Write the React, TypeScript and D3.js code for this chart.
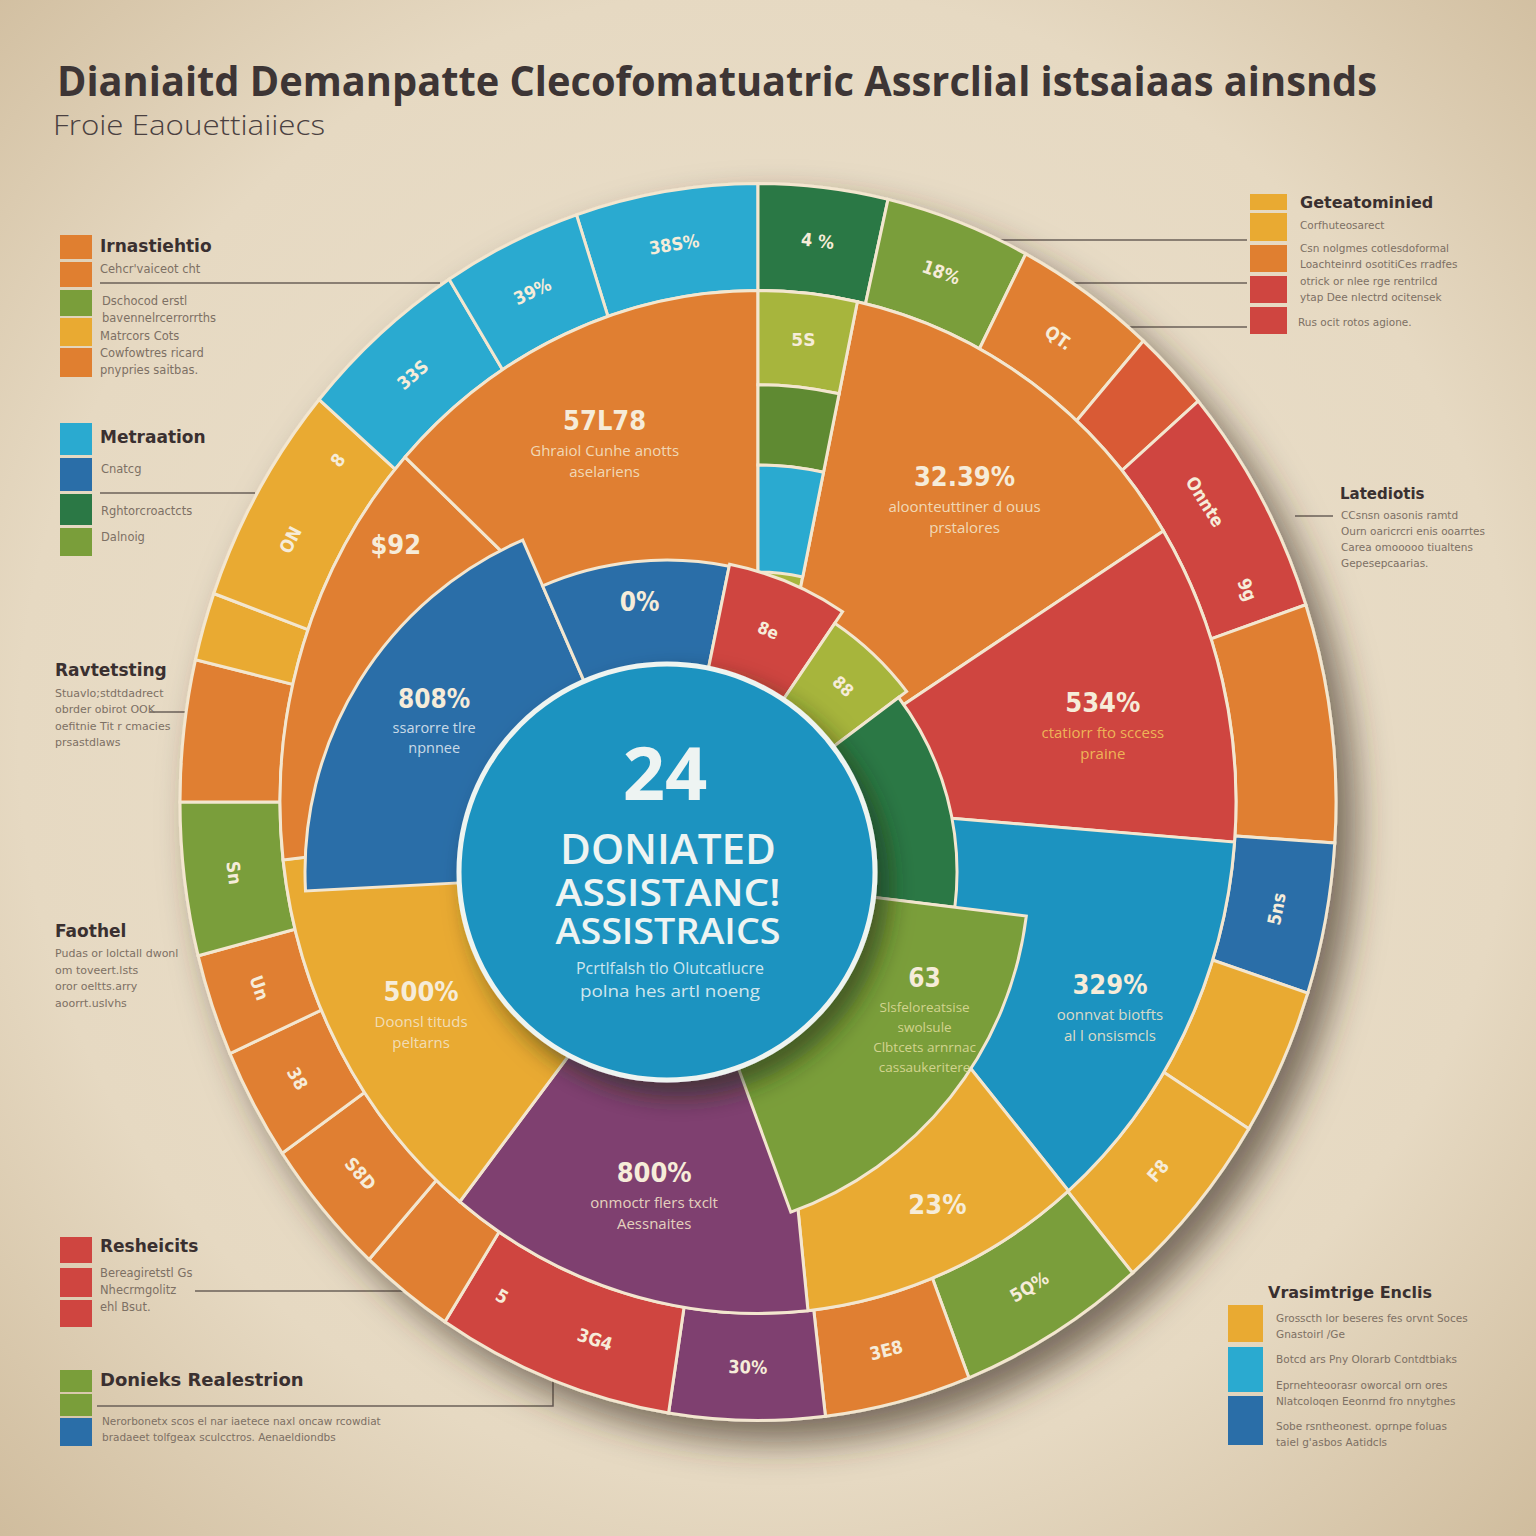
import React from "react";
import * as d3 from "d3";

const COL = {
  orange: "#e07f30", yellow: "#e9aa32", red: "#cf4540", lblue: "#2aaad0", cblue: "#1e93c0",
  dblue: "#2a6ea8", green: "#7a9e3a", lime: "#a7b53c", dgreen: "#2b7845", purple: "#7f416f",
  redor: "#d95a35", olive: "#5f8a30",
};

// Outer ring (angular shares, degrees)
const OUTER_START = -18.3;
const outerShares = [18.3, 13, 14.6, 14.2, 7.8, 21.8, 22.4, 14.2, 13.9, 17.7, 19, 14.7, 15.6, 23.9, 9.5, 13.1, 10.6, 9.6, 14.4, 13.3, 6.4, 20.9, 17.1, 14];
const outerLabels = ["38S%", "4 %", "18%", "QT.", "", "Onnte", "", "5ns", "", "F8", "5Q%", "3E8", "30%", "3G4", "", "S8D", "38", "Un", "Sn", "", "", "ON", "33S", "39%"];
const outerExtra = ["", "", "", "", "", "9g", "", "", "", "", "", "", "", "5", "", "", "", "", "", "", "", "8", "", ""];
const outerColors = ["lblue", "dgreen", "green", "orange", "redor", "red", "orange", "dblue", "yellow", "yellow", "green", "orange", "purple", "red", "orange", "orange", "orange", "orange", "green", "orange", "yellow", "yellow", "lblue", "lblue"];

// Middle ring
const midShares = [12, 46, 36.5, 45, 34.5, 44.6, 44.9, 48.9, 47.6];
const midValues = ["", "32.39%", "534%", "329%", "23%", "800%", "500%", "$92", "57L78"];
const midSubs = [[], ["aloonteuttiner d ouus", "prstalores"], ["ctatiorr fto sccess", "praine"], ["oonnvat biotfts", "al l onsismcls"], [], ["onmoctr flers txclt", "Aessnaites"], ["Doonsl tituds", "peltarns"], [], ["Ghraiol Cunhe anotts", "aselariens"]];
const midColors = ["lime", "orange", "red", "cblue", "yellow", "purple", "yellow", "orange", "orange"];

// narrow column stacked cells in the first middle segment (radial bands)
const columnBands = [[390, 478], [315, 390], [215, 315]];
const columnColors = ["lime", "olive", "lblue"];
const columnLabels = ["5S", "", ""];

// Inner ring around the centre circle
const INNER_START = 267;
const innerShares = [69.5, 35, 22.5, 19, 44, 63, 107];
const innerDepth = [362, 312, 314, 300, 290, 362, 0];
const innerValues = ["808%", "0%", "8e", "88", "", "63", ""];
const innerSubs = [["ssarorre tlre", "npnnee"], [], [], [], [], ["Slsfeloreatsise", "swolsule", "Clbtcets arnrnac", "cassaukeritere"], []];
const innerColors = ["dblue", "dblue", "red", "lime", "dgreen", "green", ""];

const centerValue = "24";
const centerLines = ["DONIATED", "ASSISTANC!", "ASSISTRAICS"];
const centerSubs = ["Pcrtlfalsh tlo Olutcatlucre", "polna hes artl noeng"];

const rad = (d: number) => (d * Math.PI) / 180;
const deg = (r: number) => (r * 180) / Math.PI;
const C1 = [758, 802];
const KY = 1.07;
const C2 = [667, 872];
const R_IN = 208;
const R_OUT0 = 478;
const R_OUT1 = 578;

const TXT = "#f6ecd9";
const INK = "#3a3030";
const GRAY = "#7d7064";

function pt1(aDeg: number, r: number) {
  return [C1[0] + r * Math.sin(rad(aDeg)), C1[1] - r * Math.cos(rad(aDeg)) * KY];
}
function pt2(aDeg: number, r: number) {
  return [C2[0] + r * Math.sin(rad(aDeg)), C2[1] - r * Math.cos(rad(aDeg))];
}
function readRot(a: number) {
  const n = ((a % 360) + 360) % 360;
  return n > 90 && n < 270 ? n - 180 : n;
}
function along(p: any, f: number) {
  return deg(p.startAngle + (p.endAngle - p.startAngle) * f);
}

export default function App() {
  const outerPie = d3.pie<number>().sort(null).value((d) => d).startAngle(rad(OUTER_START)).endAngle(rad(OUTER_START + 360))(outerShares);
  const midPie = d3.pie<number>().sort(null).value((d) => d).startAngle(0).endAngle(2 * Math.PI)(midShares);
  const innerPie = d3.pie<number>().sort(null).value((d) => d).startAngle(rad(INNER_START)).endAngle(rad(INNER_START + 360))(innerShares);
  const arc = d3.arc<any>();
  const stroke = "#f3e6cf";

  // label placement (fraction along the slice, radius)
  const midPlace: Record<number, [number, number]> = { 1: [0.5, 360], 2: [0.5, 355], 3: [0.5, 395], 4: [0.45, 425], 5: [0.5, 370], 6: [0.5, 385], 7: [0.8, 430], 8: [0.5, 380] };
  const innerPlace: Record<number, [number, number]> = { 0: [0.55, 285], 1: [0.5, 262], 2: [0.5, 262], 3: [0.5, 256], 5: [0.27, 282] };

  const outerLabel = (txt: string, a: number, key: string) => {
    const [x, y] = pt1(a, (R_OUT0 + R_OUT1) / 2);
    return (
      <text key={key} x={x} y={y} transform={`rotate(${readRot(a)},${x},${y})`} textAnchor="middle" dominantBaseline="central" fontSize={18} fontWeight={700} fill={TXT} fontFamily="DejaVu Sans Condensed, DejaVu Sans, sans-serif">{txt}</text>
    );
  };

  return (
    <svg width={1536} height={1536} style={{ position: "absolute", left: 0, top: 0, display: "block" }} fontFamily="DejaVu Sans, sans-serif">
      <defs>
        <radialGradient id="bg" cx="50%" cy="48%" r="75%">
          <stop offset="0%" stopColor="#ece2cf" />
          <stop offset="65%" stopColor="#e6d9c2" />
          <stop offset="100%" stopColor="#cdb999" />
        </radialGradient>
        <filter id="ringShadow" x="-20%" y="-20%" width="150%" height="150%">
          <feDropShadow dx="18" dy="20" stdDeviation="18" floodColor="#3e3020" floodOpacity="0.65" />
        </filter>
        <filter id="circShadow" x="-30%" y="-30%" width="160%" height="160%">
          <feDropShadow dx="12" dy="14" stdDeviation="12" floodColor="#1c2a10" floodOpacity="0.6" />
        </filter>
      </defs>
      <rect x={0} y={0} width={1536} height={1536} fill="url(#bg)" />

      {/* Title */}
      <text x={57} y={96} fontSize={42} fontWeight={700} fill="#3d3535" fontFamily="Open Sans, sans-serif" textLength={1320} lengthAdjust="spacingAndGlyphs">Dianiaitd Demanpatte Clecofomatuatric Assrclial  istsaiaas ainsnds</text>
      <text x={53} y={135} fontSize={28} fontWeight={300} fill="#4a4040" fontFamily="Open Sans, sans-serif" textLength={272} lengthAdjust="spacingAndGlyphs">Froie Eaouettiaiiecs</text>

      {/* connector lines */}
      <g stroke="#6b6058" strokeWidth={1.5}>
        <line x1={100} y1={283} x2={440} y2={283} />
        <line x1={100} y1={493} x2={255} y2={493} />
        <line x1={150} y1={712} x2={188} y2={712} />
        <line x1={195} y1={1291} x2={410} y2={1291} />
        <path d="M97 1406 H553 V1380" fill="none" />
        <line x1={1000} y1={240} x2={1247} y2={240} />
        <line x1={1035} y1={283} x2={1247} y2={283} />
        <line x1={1080} y1={327} x2={1247} y2={327} />
        <line x1={1295} y1={516} x2={1333} y2={516} />
      </g>

      {/* Rings */}
      <g filter="url(#ringShadow)">
        <g transform={`translate(${C1[0]},${C1[1]}) scale(1,${KY})`}>
          {outerPie.map((p, i) => (
            <path key={"o" + i} d={arc({ ...p, innerRadius: R_OUT0, outerRadius: R_OUT1 }) as string} fill={(COL as any)[outerColors[i]]} stroke={stroke} strokeWidth={3} vectorEffect="non-scaling-stroke" />
          ))}
          {midPie.map((p, i) => (
            <path key={"m" + i} d={arc({ ...p, innerRadius: 0, outerRadius: R_OUT0 }) as string} fill={(COL as any)[midColors[i]]} stroke={stroke} strokeWidth={3} vectorEffect="non-scaling-stroke" />
          ))}
          {columnBands.map((b, i) => (
            <path key={"c" + i} d={arc({ startAngle: midPie[0].startAngle, endAngle: midPie[0].endAngle, innerRadius: b[0], outerRadius: b[1] }) as string} fill={(COL as any)[columnColors[i]]} stroke={stroke} strokeWidth={3} vectorEffect="non-scaling-stroke" />
          ))}
        </g>
      </g>

      <g transform={`translate(${C2[0]},${C2[1]})`}>
        {innerPie.map((p, i) =>
          innerDepth[i] > 0 ? (
            <path key={"i" + i} d={arc({ ...p, innerRadius: R_IN - 4, outerRadius: innerDepth[i] }) as string} fill={(COL as any)[innerColors[i]]} stroke={stroke} strokeWidth={3} />
          ) : null
        )}
      </g>

      {/* outer labels */}
      {outerPie.map((p, i) => {
        if (!outerLabels[i]) return null;
        if (outerExtra[i]) {
          return (
            <g key={"ol" + i}>
              {outerLabel(outerLabels[i], along(p, 0.38), "a")}
              {outerLabel(outerExtra[i], along(p, 0.84), "b")}
            </g>
          );
        }
        return outerLabel(outerLabels[i], along(p, 0.5), "ol" + i);
      })}

      {/* column labels */}
      {columnBands.map((b, i) => {
        if (!columnLabels[i]) return null;
        const a = along(midPie[0], 0.5);
        const [x, y] = pt1(a, (b[0] + b[1]) / 2);
        return <text key={"cl" + i} x={x} y={y} textAnchor="middle" dominantBaseline="central" fontSize={17} fontWeight={700} fill={TXT}>{columnLabels[i]}</text>;
      })}

      {/* middle labels */}
      {midPie.map((p, i) => {
        if (!midValues[i]) return null;
        const [f, r] = midPlace[i] || [0.5, 375];
        const [x, y] = pt1(along(p, f), r);
        return (
          <g key={"ml" + i}>
            <text x={x} y={y} textAnchor="middle" fontSize={27} fontWeight={700} fill={TXT} fontFamily="DejaVu Sans Condensed, DejaVu Sans, sans-serif">{midValues[i]}</text>
            {midSubs[i].map((s, j) => (
              <text key={j} x={x} y={y + 26 + j * 21} textAnchor="middle" fontSize={15} fill={i === 2 ? "#f3c25a" : "#f3e3c8"} fillOpacity={0.9} fontFamily="Open Sans, sans-serif">{s}</text>
            ))}
          </g>
        );
      })}

      {/* centre circle */}
      <circle cx={C2[0]} cy={C2[1]} r={R_IN} fill={COL.cblue} stroke="#eef4f0" strokeWidth={5} filter="url(#circShadow)" />

      {/* inner labels */}
      {innerPie.map((p, i) => {
        if (!innerValues[i]) return null;
        const [f, r] = innerPlace[i] || [0.5, 260];
        const a = along(p, f);
        const small = i === 2 || i === 3;
        const [x, y] = pt2(a, r);
        return (
          <g key={"il" + i}>
            <text x={x} y={y} textAnchor="middle" dominantBaseline={small ? "central" : "auto"} transform={small ? `rotate(${readRot(a)},${x},${y})` : undefined} fontSize={small ? 17 : 26} fontWeight={700} fill={TXT} fontFamily="DejaVu Sans Condensed, DejaVu Sans, sans-serif">{innerValues[i]}</text>
            {innerSubs[i].map((s, j) => (
              <text key={j} x={x} y={y + 25 + j * 20} textAnchor="middle" fontSize={i === 5 ? 13.5 : 14.5} fill={i === 5 ? "#e3dfa0" : "#e8eef5"} fillOpacity={0.85} fontFamily="Open Sans, sans-serif">{s}</text>
            ))}
          </g>
        );
      })}

      {/* centre text */}
      <g fontFamily="Open Sans, sans-serif" fill="#eef4f2" textAnchor="middle">
        <text x={665} y={800} fontSize={74} fontWeight={700}>{centerValue}</text>
        {centerLines.map((t, i) => (
          <text key={t} x={668} y={[864, 906, 944][i]} fontSize={[42, 38, 36][i]} fontWeight={600} textLength={i === 0 ? 216 : 225} lengthAdjust="spacingAndGlyphs">{t}</text>
        ))}
        {centerSubs.map((t, i) => (
          <text key={t} x={670} y={974 + i * 23} fontSize={16} fill="#cfe6ee" textLength={i === 0 ? 188 : 180} lengthAdjust="spacingAndGlyphs">{t}</text>
        ))}
      </g>

      {/* Left legends */}
      <g>
        {[["orange", 235, 24], ["orange", 262, 25], ["green", 290, 26], ["yellow", 318, 28], ["orange", 348, 29]].map(([c, y, h], i) => (
          <rect key={"s1" + i} x={60} y={y as number} width={32} height={h as number} fill={(COL as any)[c as string]} />
        ))}
        <text x={100} y={252} fontSize={17} fontWeight={700} fill={INK}>Irnastiehtio</text>
        <g fontSize={11.5} fill={GRAY}>
          <text x={100} y={273}>Cehcr'vaiceot cht</text>
          <text x={102} y={305}>Dschocod erstl</text>
          <text x={102} y={322}>bavennelrcerrorrths</text>
          <text x={100} y={340}>Matrcors Cots</text>
          <text x={100} y={357}>Cowfowtres ricard</text>
          <text x={100} y={374}>pnypries saitbas.</text>
        </g>

        {[["lblue", 423, 32], ["dblue", 458, 33], ["dgreen", 494, 31], ["green", 528, 28]].map(([c, y, h], i) => (
          <rect key={"s2" + i} x={60} y={y as number} width={32} height={h as number} fill={(COL as any)[c as string]} />
        ))}
        <text x={100} y={443} fontSize={17} fontWeight={700} fill={INK}>Metraation</text>
        <g fontSize={11.5} fill={GRAY}>
          <text x={101} y={473}>Cnatcg</text>
          <text x={101} y={515}>Rghtorcroactcts</text>
          <text x={101} y={541}>Dalnoig</text>
        </g>

        <text x={55} y={676} fontSize={17} fontWeight={700} fill={INK}>Ravtetsting</text>
        <g fontSize={11} fill={GRAY}>
          <text x={55} y={697}>Stuavlo;stdtdadrect</text>
          <text x={55} y={713}>obrder obirot OOK</text>
          <text x={55} y={730}>oefitnie Tit r cmacies</text>
          <text x={55} y={746}>prsastdlaws</text>
        </g>

        <text x={55} y={937} fontSize={17} fontWeight={700} fill={INK}>Faothel</text>
        <g fontSize={11} fill={GRAY}>
          <text x={55} y={957}>Pudas or lolctall dwonl</text>
          <text x={55} y={974}>om toveert.lsts</text>
          <text x={55} y={990}>oror oeltts.arry</text>
          <text x={55} y={1007}>aoorrt.uslvhs</text>
        </g>

        {[[1237, 26], [1268, 29], [1300, 27]].map(([y, h], i) => (
          <rect key={"s5" + i} x={60} y={y} width={32} height={h} fill={COL.red} />
        ))}
        <text x={100} y={1252} fontSize={17} fontWeight={700} fill={INK}>Resheicits</text>
        <g fontSize={11.5} fill={GRAY}>
          <text x={100} y={1277}>Bereagiretstl Gs</text>
          <text x={100} y={1294}>Nhecrmgolitz</text>
          <text x={100} y={1311}>ehl Bsut.</text>
        </g>

        {[["green", 1370, 22], ["green", 1394, 22], ["dblue", 1418, 28]].map(([c, y, h], i) => (
          <rect key={"s6" + i} x={60} y={y as number} width={32} height={h as number} fill={(COL as any)[c as string]} />
        ))}
        <text x={100} y={1386} fontSize={18} fontWeight={700} fill={INK}>Donieks Realestrion</text>
        <g fontSize={10.5} fill={GRAY}>
          <text x={102} y={1425}>Nerorbonetx scos el nar iaetece naxl oncaw rcowdiat</text>
          <text x={102} y={1441}>bradaeet tolfgeax sculcctros. Aenaeldiondbs</text>
        </g>
      </g>

      {/* Right legends */}
      <g>
        {[["yellow", 194, 16], ["yellow", 213, 28], ["orange", 245, 27], ["red", 276, 27], ["red", 307, 27]].map(([c, y, h], i) => (
          <rect key={"r1" + i} x={1250} y={y as number} width={37} height={h as number} fill={(COL as any)[c as string]} />
        ))}
        <text x={1300} y={208} fontSize={16} fontWeight={700} fill={INK}>Geteatominied</text>
        <g fontSize={10.5} fill={GRAY}>
          <text x={1300} y={229}>Corfhuteosarect</text>
          <text x={1300} y={252}>Csn nolgmes cotlesdoformal</text>
          <text x={1300} y={268}>Loachteinrd osotitiCes rradfes</text>
          <text x={1300} y={285}>otrick or nlee rge rentrilcd</text>
          <text x={1300} y={301}>ytap Dee nlectrd ocitensek</text>
          <text x={1298} y={326}>Rus ocit rotos agione.</text>
        </g>

        <text x={1340} y={499} fontSize={15} fontWeight={700} fill={INK}>Latediotis</text>
        <g fontSize={10.5} fill={GRAY}>
          <text x={1341} y={519}>CCsnsn oasonis ramtd</text>
          <text x={1341} y={535}>Ourn oaricrcri enis ooarrtes</text>
          <text x={1341} y={551}>Carea omooooo tiualtens</text>
          <text x={1341} y={567}>Gepesepcaarias.</text>
        </g>

        <text x={1268} y={1298} fontSize={16} fontWeight={700} fill={INK}>Vrasimtrige Enclis</text>
        {[["yellow", 1305, 37], ["lblue", 1347, 45], ["dblue", 1396, 49]].map(([c, y, h], i) => (
          <rect key={"r3" + i} x={1228} y={y as number} width={35} height={h as number} fill={(COL as any)[c as string]} />
        ))}
        <g fontSize={10.5} fill={GRAY}>
          <text x={1276} y={1322}>Grosscth lor beseres fes orvnt Soces</text>
          <text x={1276} y={1338}>Gnastoirl /Ge</text>
          <text x={1276} y={1363}>Botcd ars Pny Olorarb Contdtbiaks</text>
          <text x={1276} y={1389}>Eprnehteoorasr oworcal orn ores</text>
          <text x={1276} y={1405}>Nlatcoloqen Eeonrnd fro nnytghes</text>
          <text x={1276} y={1430}>Sobe rsntheonest. oprnpe foluas</text>
          <text x={1276} y={1446}>taiel g'asbos Aatidcls</text>
        </g>
      </g>
    </svg>
  );
}
